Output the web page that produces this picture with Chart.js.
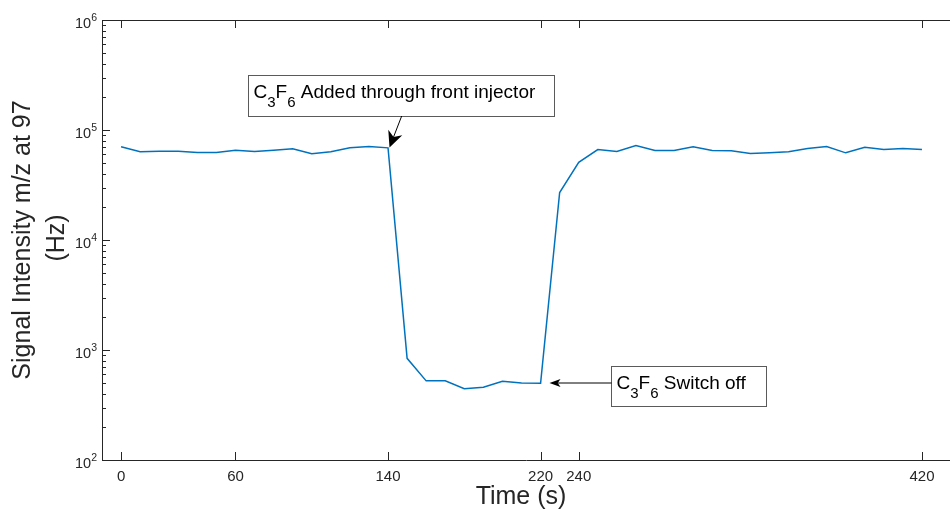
<!DOCTYPE html>
<html>
<head>
<meta charset="utf-8">
<script src="https://cdn.jsdelivr.net/npm/chart.js@4.4.1/dist/chart.umd.min.js"></script>
<style>
  html, body { margin: 0; padding: 0; background: #fff; overflow: hidden; }
  #wrap { width: 950px; height: 510px; position: relative; }
</style>
</head>
<body>
<div id="wrap"><canvas id="c" width="950" height="510"></canvas></div>
<script>
// Sample times (s) and measured signal at m/z 97 (Hz)
const timeS = [0, 10, 20, 30, 40, 50, 60, 70, 80, 90, 100, 110, 120, 130, 140,
  150, 160, 170, 180, 190, 200, 210, 220, 230, 240, 250, 260, 270, 280, 290,
  300, 310, 320, 330, 340, 350, 360, 370, 380, 390, 400, 410, 420];
const signalHz = [70300, 63300, 64000, 64100, 62400, 62400, 65500, 63800, 65500, 67400,
  60700, 63300, 68800, 70800, 68800,
  840, 524, 524, 445, 458, 520, 501, 499,
  27000, 50800, 66400, 63700, 72200, 65000, 65000, 70300, 65000, 64700, 61100,
  62000, 63300, 67900, 70800, 62000, 69700, 66400, 67900, 66400];

// Axis ticks
const xTicks = [0, 60, 140, 220, 240, 420];
const yExponents = [2, 3, 4, 5, 6];

const FONT = '"Liberation Sans", Arial, Helvetica, sans-serif';
const AXIS_COLOR = '#262626';

// Text with subscripts: segments of [text, isSubscript]
function drawRich(ctx, segs, x, baseline, size, subSize, subDrop) {
  let cx = x;
  for (const [t, sub] of segs) {
    ctx.font = (sub ? subSize : size) + 'px ' + FONT;
    ctx.fillText(t, cx, sub ? baseline + subDrop : baseline);
    cx += ctx.measureText(t).width;
  }
  return cx - x;
}

function arrowHead(ctx, tx, ty, fx, fy, len, half, notch) {
  const dx = tx - fx, dy = ty - fy;
  const d = Math.hypot(dx, dy);
  const ux = dx / d, uy = dy / d;
  const nx = -uy, ny = ux;
  const bx = tx - ux * len, by = ty - uy * len;
  ctx.beginPath();
  ctx.moveTo(tx, ty);
  ctx.lineTo(bx + nx * half, by + ny * half);
  ctx.lineTo(tx - ux * len * notch, ty - uy * len * notch);
  ctx.lineTo(bx - nx * half, by - ny * half);
  ctx.closePath();
  ctx.fill();
}

const annotations = [
  { segs: [['C', false], ['3', true], ['F', false], ['6', true], [' Added through front injector', false]],
    box: [248.5, 75.5, 306, 41], tail: [401.7, 116], tip: [389.5, 147.5], head: [16, 7.5, 0.7] },
  { segs: [['C', false], ['3', true], ['F', false], ['6', true], [' Switch off', false]],
    box: [611.5, 366.5, 155, 40], tail: [611.5, 383], tip: [549.5, 383], head: [11, 4, 0.75] }
];

const axisDecor = {
  id: 'axisDecor',
  afterDraw(chart) {
    const ctx = chart.ctx;
    const xs = chart.scales.x, ys = chart.scales.y;
    const a = chart.chartArea;
    ctx.save();
    ctx.strokeStyle = AXIS_COLOR;
    ctx.lineWidth = 1;
    // top box edge
    ctx.beginPath();
    ctx.moveTo(a.left, Math.round(a.top) + 0.5);
    ctx.lineTo(a.right, Math.round(a.top) + 0.5);
    ctx.stroke();
    // inward x ticks (bottom and top)
    ctx.beginPath();
    for (const t of xTicks) {
      const px = Math.round(xs.getPixelForValue(t)) + 0.5;
      ctx.moveTo(px, a.bottom); ctx.lineTo(px, a.bottom - 8);
      ctx.moveTo(px, a.top); ctx.lineTo(px, a.top + 8);
    }
    ctx.stroke();
    // inward y ticks, major and minor
    ctx.beginPath();
    for (let e = 2; e <= 6; e++) {
      const py = Math.round(ys.getPixelForValue(Math.pow(10, e))) + 0.5;
      ctx.moveTo(a.left, py); ctx.lineTo(a.left + 8, py);
      if (e < 6) {
        for (let m = 2; m <= 9; m++) {
          const pm = Math.round(ys.getPixelForValue(m * Math.pow(10, e))) + 0.5;
          ctx.moveTo(a.left, pm); ctx.lineTo(a.left + 4, pm);
        }
      }
    }
    ctx.stroke();
    // y tick labels 10^n
    ctx.fillStyle = AXIS_COLOR;
    ctx.textBaseline = 'alphabetic';
    ctx.textAlign = 'left';
    for (const e of yExponents) {
      const py = ys.getPixelForValue(Math.pow(10, e));
      ctx.font = '10.5px ' + FONT;
      const ws = ctx.measureText(String(e)).width;
      ctx.font = '14.5px ' + FONT;
      const wb = ctx.measureText('10').width;
      const right = a.left - 5;
      ctx.fillText('10', right - ws - wb, py + 7.5);
      ctx.font = '10.5px ' + FONT;
      ctx.fillText(String(e), right - ws, py + 1);
    }
    // axis titles
    ctx.fillStyle = AXIS_COLOR;
    ctx.font = '25px ' + FONT;
    ctx.textAlign = 'center';
    ctx.textBaseline = 'middle';
    ctx.fillText('Time (s)', 521, 497);
    ctx.save();
    ctx.translate(23, 240);
    ctx.rotate(-Math.PI / 2);
    ctx.fillText('Signal Intensity m/z at 97', 0, 0);
    ctx.restore();
    ctx.save();
    ctx.translate(57, 238);
    ctx.rotate(-Math.PI / 2);
    ctx.fillText('(Hz)', 0, 0);
    ctx.restore();
    // text-arrow annotations
    ctx.textAlign = 'left';
    ctx.textBaseline = 'alphabetic';
    for (const an of annotations) {
      const [bx, by, bw, bh] = an.box;
      ctx.fillStyle = '#fff';
      ctx.fillRect(bx, by, bw, bh);
      ctx.strokeStyle = '#5a5a5a';
      ctx.lineWidth = 1;
      ctx.strokeRect(bx, by, bw, bh);
      ctx.fillStyle = '#000';
      drawRich(ctx, an.segs, bx + 5, by + 22, 19, 15, 9);
      ctx.strokeStyle = '#000';
      ctx.beginPath();
      ctx.moveTo(an.tail[0], an.tail[1]);
      const [len, half, notch] = an.head;
      const dx = an.tip[0] - an.tail[0], dy = an.tip[1] - an.tail[1];
      const d = Math.hypot(dx, dy);
      ctx.lineTo(an.tip[0] - dx / d * len * notch, an.tip[1] - dy / d * len * notch);
      ctx.stroke();
      ctx.fillStyle = '#000';
      arrowHead(ctx, an.tip[0], an.tip[1], an.tail[0], an.tail[1], len, half, notch);
    }
    ctx.restore();
  }
};

new Chart(document.getElementById('c'), {
  type: 'line',
  data: {
    datasets: [{
      data: timeS.map((t, i) => ({ x: t, y: signalHz[i] })),
      borderColor: '#0072BD',
      borderWidth: 1.5,
      pointRadius: 0,
      tension: 0,
      fill: false
    }]
  },
  options: {
    responsive: false,
    animation: false,
    events: [],
    layout: { padding: { top: 20, right: 0, left: 0, bottom: 0 } },
    plugins: { legend: { display: false }, tooltip: { enabled: false } },
    scales: {
      x: {
        type: 'linear',
        min: -10,
        max: 434.7,
        afterBuildTicks: s => { s.ticks = xTicks.map(v => ({ value: v })); },
        afterFit: s => { s.height = 50; },
        grid: { display: true, drawOnChartArea: false, drawTicks: false },
        border: { display: true, color: AXIS_COLOR, width: 1 },
        ticks: {
          color: AXIS_COLOR,
          font: { family: FONT, size: 15 },
          padding: 8,
          maxRotation: 0,
          autoSkip: false,
          callback: v => String(v)
        }
      },
      y: {
        type: 'logarithmic',
        min: 100,
        max: 1000000,
        afterFit: s => { s.width = 102; },
        grid: { display: true, drawOnChartArea: false, drawTicks: false },
        border: { display: true, color: AXIS_COLOR, width: 1 },
        ticks: { display: false }
      }
    }
  },
  plugins: [axisDecor]
});
</script>
</body>
</html>
